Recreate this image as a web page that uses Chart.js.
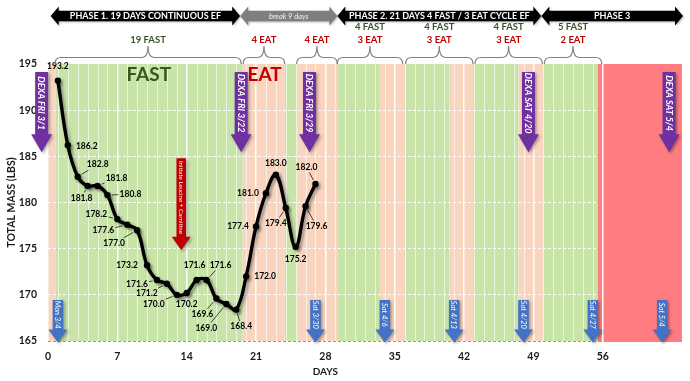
<!DOCTYPE html>
<html><head><meta charset="utf-8">
<script src="https://cdn.jsdelivr.net/npm/chart.js@4.4.1/dist/chart.umd.min.js"></script>
<style>html,body{margin:0;padding:0;background:#fff}#wrap{width:690px;height:381px}</style>
</head><body><div id="wrap"><canvas id="c" width="690" height="381"></canvas></div>
<script>
// ---------- data ----------
const days = [1,2,3,4,5,6,7,8,9,10,11,12,13,14,15,16,17,18,19,20,21,22,23,24,25,26,27];
const mass = [193.2,186.2,182.8,181.8,181.8,180.8,178.2,177.6,177.0,173.2,171.6,171.2,170.0,170.2,171.6,171.6,169.6,169.0,168.4,172.0,177.4,181.0,183.0,179.4,175.2,179.6,182.0];
const xTicks = [0,7,14,21,28,35,42,49,56];
const yTicks = [165,170,175,180,185,190,195];
// background day bands (day ranges)
const bandStart = [0,0.75,19.65,23.9,25.2,29.2,33.5,36.1,40.5,42.9,47.5,50.0,55.5];
const bandEnd   = [0.75,19.65,23.9,25.2,29.2,33.5,36.1,40.5,42.9,47.5,50.0,55.5,64];
const bandKind  = ['eat','fast','eat','fast','eat','fast','eat','fast','eat','fast','eat','fast','phase3'];
// phases
const phaseStart = [0.27,19.4,29.2,49.8];
const phaseEnd   = [19.4,29.2,49.8,64.1];
const phaseText  = ['PHASE 1. 19 DAYS CONTINUOUS EF','break 9 days','PHASE 2. 21 DAYS 4 FAST / 3 EAT CYCLE EF','PHASE 3'];
// braces
const braceStart = [0.7,19.7,25.1,29.2,36.1,43.1,50.1];
const braceEnd   = [19.5,23.9,29.2,35.8,42.9,49.9,55.9];
const braceUpper = ['','','','4 FAST','4 FAST','4 FAST','5 FAST'];
const braceLower = ['19 FAST','4 EAT','4 EAT','3 EAT','3 EAT','3 EAT','2 EAT'];
// DEXA markers
const dexaDay   = [-0.64,19.5,26.4,48.5,62.7];
const dexaText  = ['DEXA FRI 3/1','DEXA FRI 3/22','DEXA FRI 3/29','DEXA SAT 4/20','DEXA SAT 5/4'];
// weekly date markers
const dateDay   = [1,27,34,41,48,55,62];
const dateText  = ['Mon 3/4','Sat 3/30','Sat 4/6','Sat 4/13','Sat 4/20','Sat 4/27','Sat 5/4'];
// supplement marker
const suppDay = 13.45;
const suppText = 'Initiate Leucine + Carnitine';

// ---------- layout config (pixels relative to points) ----------
const labelDx = [0,19,20,-6,19,23,-21,-24,-23,-20,-20,-20,-23,0,-2,14,-14,-20,5,19,-18,-18,0,-10,0,11,-9];
const labelDy = [-14,1,-12,12,-8,-1,-5,6,13,0,4,10,9,11,-15,-15,16,24,17,0,0,0,-12,15,12,20,-17];
const leaderOn = [0,0,1,1,1,1,1,1,1,0,1,1,1,0,0,1,1,1,1,0,0,0,0,1,0,1,1];

const FF = "Lato, 'Open Sans', sans-serif";
const C = {fast:'#c8e4a8', eat:'#f9d5c0', phase3:'#ff7c80', green:'#375623', red:'#c00000',
           purple:'#7030a0', blue:'#4472c4'};

function downArrow(ctx, cx, yTop, yHead, yTip, sw, hw, fill, text, font){
  ctx.save();
  ctx.shadowColor='rgba(0,0,0,0.35)'; ctx.shadowBlur=3; ctx.shadowOffsetX=1.5; ctx.shadowOffsetY=1.5;
  ctx.fillStyle=fill;
  ctx.beginPath();
  ctx.moveTo(cx-sw/2,yTop); ctx.lineTo(cx+sw/2,yTop); ctx.lineTo(cx+sw/2,yHead);
  ctx.lineTo(cx+hw/2,yHead); ctx.lineTo(cx,yTip); ctx.lineTo(cx-hw/2,yHead);
  ctx.lineTo(cx-sw/2,yHead); ctx.closePath(); ctx.fill();
  ctx.restore();
  ctx.save();
  ctx.translate(cx,(yTop+yHead)/2); ctx.rotate(Math.PI/2);
  ctx.fillStyle='#fff'; ctx.font=font; ctx.textAlign='center'; ctx.textBaseline='middle';
  ctx.fillText(text,0,0.5);
  ctx.restore();
}
function dblArrow(ctx,x1,x2,yc,bodyH,headH,headL,fill){
  ctx.save();
  ctx.shadowColor='rgba(0,0,0,0.3)'; ctx.shadowBlur=2; ctx.shadowOffsetX=1; ctx.shadowOffsetY=1;
  ctx.fillStyle=fill; ctx.beginPath();
  ctx.moveTo(x1,yc); ctx.lineTo(x1+headL,yc-headH/2); ctx.lineTo(x1+headL,yc-bodyH/2);
  ctx.lineTo(x2-headL,yc-bodyH/2); ctx.lineTo(x2-headL,yc-headH/2); ctx.lineTo(x2,yc);
  ctx.lineTo(x2-headL,yc+headH/2); ctx.lineTo(x2-headL,yc+bodyH/2); ctx.lineTo(x1+headL,yc+bodyH/2);
  ctx.lineTo(x1+headL,yc+headH/2); ctx.closePath(); ctx.fill();
  ctx.restore();
}
function brace(ctx,x1,x2,yEnd,yBar,yTip){
  const xm=(x1+x2)/2, r=6;
  ctx.beginPath();
  ctx.moveTo(x1,yEnd); ctx.quadraticCurveTo(x1,yBar,x1+r,yBar);
  ctx.lineTo(xm-r,yBar); ctx.quadraticCurveTo(xm,yBar,xm,yTip);
  ctx.quadraticCurveTo(xm,yBar,xm+r,yBar);
  ctx.lineTo(x2-r,yBar); ctx.quadraticCurveTo(x2,yBar,x2,yEnd);
  ctx.stroke();
}

const annot = {
  id:'annot',
  beforeDraw(chart){
    const {ctx, chartArea:a, scales:{x}} = chart;
    ctx.save();
    for(let i=0;i<bandStart.length;i++){
      if(bandKind[i]==='phase3') continue;
      const x1=x.getPixelForValue(bandStart[i]), x2=x.getPixelForValue(bandEnd[i]);
      ctx.fillStyle=C[bandKind[i]]; ctx.fillRect(x1,a.top,x2-x1,a.bottom-a.top);
    }
    ctx.strokeStyle='rgba(255,255,255,0.6)'; ctx.lineWidth=1;
    for(let d=1; d<56; d++){
      if(d%7===0) continue;
      const px=Math.round(x.getPixelForValue(d))+0.5;
      ctx.beginPath(); ctx.moveTo(px,a.top); ctx.lineTo(px,a.bottom); ctx.stroke();
    }
    ctx.restore();
  },
  beforeDatasetsDraw(chart){
    const {ctx, chartArea:a, scales:{x}} = chart;
    ctx.save();
    for(let i=0;i<bandStart.length;i++){
      if(bandKind[i]!=='phase3') continue;
      const x1=x.getPixelForValue(bandStart[i]), x2=x.getPixelForValue(bandEnd[i]);
      ctx.fillStyle=C.phase3; ctx.fillRect(x1,a.top,x2-x1,a.bottom-a.top+1);
    }
    const p56=x.getPixelForValue(56);
    ctx.strokeStyle='#fff'; ctx.lineWidth=1.6;
    ctx.beginPath(); ctx.moveTo(p56,a.top); ctx.lineTo(p56,a.bottom+1); ctx.stroke();
    ctx.restore();
  },
  beforeDatasetDraw(chart){
    const ctx=chart.ctx; ctx.save();
    ctx.shadowColor='rgba(0,0,0,0.35)'; ctx.shadowBlur=3; ctx.shadowOffsetX=2; ctx.shadowOffsetY=2;
  },
  afterDatasetDraw(chart){ chart.ctx.restore(); },
  afterDatasetsDraw(chart){
    const {ctx, chartArea:a, scales:{x,y}} = chart;
    ctx.save();
    // big FAST / EAT
    ctx.textAlign='center'; ctx.textBaseline='middle';
    ctx.font=`bold 19px ${FF}`;
    ctx.fillStyle=C.green; ctx.fillText('FAST', x.getPixelForValue(10.17), 75);
    ctx.fillStyle=C.red; ctx.fillText('EAT', x.getPixelForValue(21.87), 75);
    // data labels
    const meta=chart.getDatasetMeta(0);
    ctx.font=`bold 8.5px ${FF}`; ctx.fillStyle='#000'; ctx.strokeStyle='#000'; ctx.lineWidth=0.7;
    meta.data.forEach((pt,i)=>{
      const lx=pt.x+labelDx[i], ly=pt.y+labelDy[i];
      ctx.fillText(mass[i].toFixed(1), lx, ly);
      if(leaderOn[i]){
        const dx=pt.x-lx, dy=pt.y-ly, len=Math.hypot(dx,dy);
        const tx=Math.abs(dx)>0.01?12/Math.abs(dx):1e9, ty=Math.abs(dy)>0.01?5.5/Math.abs(dy):1e9;
        const t0=Math.min(tx,ty), t1=1-4.5/len;
        if(t1>t0){ ctx.beginPath(); ctx.moveTo(lx+dx*t0,ly+dy*t0); ctx.lineTo(lx+dx*t1,ly+dy*t1); ctx.stroke(); }
      }
    });
    // DEXA arrows
    dexaDay.forEach((d,i)=>downArrow(ctx,x.getPixelForValue(d),y.getPixelForValue(194.13),y.getPixelForValue(187.4),y.getPixelForValue(185.45),13,21,C.purple,dexaText[i],`italic bold 9px ${FF}`));
    // supplement arrow
    downArrow(ctx,x.getPixelForValue(suppDay),y.getPixelForValue(184.8),y.getPixelForValue(176.3),y.getPixelForValue(174.85),9.5,19,C.red,suppText,`6.2px ${FF}`);
    // date arrows
    dateDay.forEach((d,i)=>downArrow(ctx,x.getPixelForValue(d),y.getPixelForValue(169.44),y.getPixelForValue(166.25),y.getPixelForValue(164.85),10.5,19,C.blue,dateText[i],`italic 7.5px ${FF}`));
    // braces + labels
    ctx.strokeStyle='#808080'; ctx.lineWidth=1.2;
    braceStart.forEach((s,i)=>{
      const x1=x.getPixelForValue(s), x2=x.getPixelForValue(braceEnd[i]), xm=(x1+x2)/2;
      brace(ctx,x1,x2,64,57.5,46);
      ctx.font=`bold 9.5px ${FF}`; ctx.textAlign='center'; ctx.textBaseline='middle';
      if(braceUpper[i]){ ctx.fillStyle=C.green; ctx.fillText(braceUpper[i],xm,27); }
      ctx.fillStyle=braceLower[i].indexOf('FAST')>=0?C.green:C.red;
      ctx.fillText(braceLower[i],xm,40);
    });
    // phase arrows
    phaseStart.forEach((s,i)=>{
      const x1=x.getPixelForValue(s), x2=x.getPixelForValue(phaseEnd[i]);
      const isBreak=phaseText[i].startsWith('break');
      dblArrow(ctx,x1,x2,16,10.5,19,8,isBreak?'#7f7f7f':'#000');
      ctx.fillStyle=isBreak?'#f2f2f2':'#fff';
      ctx.font=isBreak?`italic 7.5px ${FF}`:`bold 9px ${FF}`;
      ctx.textAlign='center'; ctx.textBaseline='middle';
      ctx.fillText(phaseText[i],(x1+x2)/2,16.5);
    });
    // axis titles
    ctx.fillStyle='#1a1a1a'; ctx.font=`bold 10px ${FF}`;
    ctx.fillText('DAYS', x.getPixelForValue(28), 372);
    ctx.font=`bold 10.5px ${FF}`;
    ctx.translate(12,(a.top+a.bottom)/2); ctx.rotate(-Math.PI/2);
    ctx.fillText('TOTAL MASS (LBS)',0,0);
    ctx.restore();
  }
};

new Chart(document.getElementById('c'),{
  type:'line',
  data:{datasets:[{
    data:days.map((d,i)=>({x:d,y:mass[i]})),
    borderColor:'#000', borderWidth:3.4, tension:0.4,
    pointRadius:3.2, pointBackgroundColor:'#000', pointBorderColor:'#000', pointBorderWidth:0
  }]},
  options:{
    responsive:false, animation:false, devicePixelRatio:1,
    layout:{padding:{top:64,right:8,left:0,bottom:0}},
    plugins:{legend:{display:false},tooltip:{enabled:false}},
    scales:{
      x:{type:'linear',min:0,max:64,
        afterBuildTicks:s=>{s.ticks=xTicks.map(v=>({value:v}));},
        afterFit:s=>{s.height=40;},
        grid:{color:'rgba(255,255,255,0.95)',lineWidth:1.5,drawTicks:false},
        border:{display:false},
        ticks:{padding:9,color:'#1a1a1a',font:{family:FF,size:10.5,weight:'bold'}}},
      y:{min:165,max:195,
        afterBuildTicks:s=>{s.ticks=yTicks.map(v=>({value:v}));},
        afterFit:s=>{s.width=48;},
        grid:{color:c=>c.tick&&c.tick.value===195?'rgba(0,0,0,0)':(c.tick&&c.tick.value===165?'rgba(110,110,110,0.7)':'rgba(255,255,255,0.95)'),lineWidth:1,drawTicks:false},
        border:{display:false,dash:[3,2]},
        ticks:{padding:11,color:'#1a1a1a',font:{family:FF,size:10.5,weight:'bold'}}}
    }
  },
  plugins:[annot]
});
</script></body></html>
